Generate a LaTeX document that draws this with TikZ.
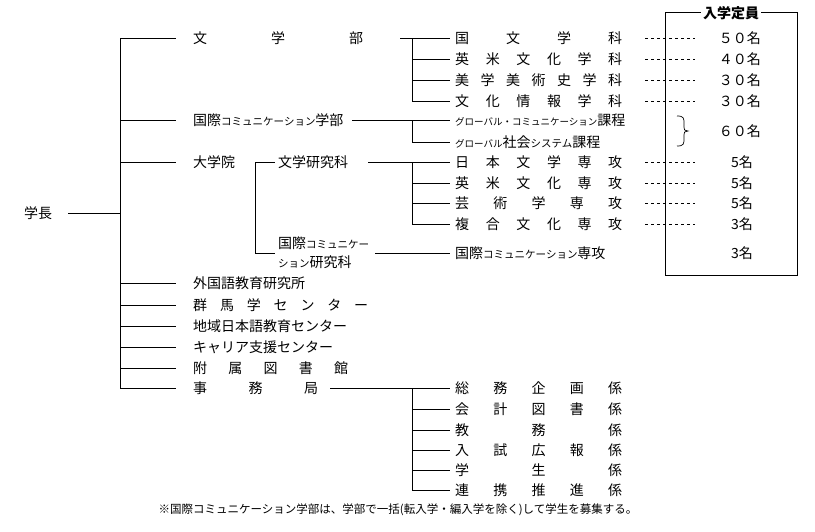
\documentclass[tikz,border=0pt]{standalone}
\usepackage{fontspec}
\setmainfont{Noto Sans CJK JP}
\newfontfamily\cjk{Noto Sans CJK JP}
\newcommand{\sprd}[2]{\makebox[#1][s]{#2}}
\newcommand{\sm}[1]{{\fontsize{10.5}{12}\selectfont #1}}
\begin{document}
\begin{tikzpicture}[x=1pt,y=-1pt,font=\cjk\fontsize{14}{16}\selectfont]
\tikzset{ln/.style={line width=0.7pt},lab/.style={anchor=west,inner sep=0pt},num/.style={anchor=east,inner sep=0pt},dsh/.style={dashed,line width=0.6pt}}
\useasboundingbox (0,0) rectangle (815,531);
% president
\node[anchor=center,inner sep=0pt] (pres) at (38,213) {学長};
\draw[ln] (68,213) -- (120,213);
\draw[ln] (120,38) -- (120,388);
\foreach \y in {38,120,162,283,305,326,347,368,388} \draw[ln] (120,\y) -- (176,\y);
% left labels
\node[lab] (bun) at (193,38) {\sprd{170pt}{文\hfill 学\hfill 部}};
\node[lab] (koku) at (193,120) {国際\sm{コミュニケーション}学部};
\node[lab] (dai) at (193,162) {大学院};
\node[lab] (bk) at (278,162) {文学研究科};
\node[lab,align=left] (kk) at (278,253) {国際\sm{コミュニケー}\\[3pt]\sm{ション}研究科};
\node[lab] (g1) at (193,283) {外国語教育研究所};
\node[lab] (g2) at (193,305) {\sprd{175pt}{群\hfill 馬\hfill 学\hfill セ\hfill ン\hfill タ\hfill ー}};
\node[lab] (g3) at (193,326) {地域日本語教育センター};
\node[lab] (g4) at (193,347) {キャリア支援センター};
\node[lab] (g5) at (193,368) {\sprd{155pt}{附\hfill 属\hfill 図\hfill 書\hfill 館}};
\node[lab] (jim) at (193,388) {\sprd{125pt}{事\hfill 務\hfill 局}};
% connectors to right
\draw[ln] (400,38) -- (412,38);
\draw[ln] (352,120) -- (412,120);
\draw[ln] (255,162) -- (275,162);
\draw[ln] (255,162) -- (255,253) -- (275,253);
\draw[ln] (368,162) -- (412,162);
\draw[ln] (375,253) -- (450,253);
\draw[ln] (330,388) -- (412,388);
\draw[ln] (412,38) -- (412,101);
\draw[ln] (412,120) -- (412,142);
\draw[ln] (412,162) -- (412,224);
\draw[ln] (412,388) -- (412,490);
\foreach \y in {38,59,80,101,120,142,162,183,203,224,388,409,430,450,470,490} \draw[ln] (412,\y) -- (450,\y);
% right items
\node[lab] (r1) at (455,38) {\sprd{167pt}{国\hfill 文\hfill 学\hfill 科}};
\node[lab] (r2) at (455,59) {\sprd{167pt}{英\hfill 米\hfill 文\hfill 化\hfill 学\hfill 科}};
\node[lab] (r3) at (455,80) {\sprd{167pt}{美\hfill 学\hfill 美\hfill 術\hfill 史\hfill 学\hfill 科}};
\node[lab] (r4) at (455,101) {\sprd{167pt}{文\hfill 化\hfill 情\hfill 報\hfill 学\hfill 科}};
\node[lab] (r5) at (455,120) {{\fontsize{9.5}{11}\selectfont グローバル・コミュニケーション}課程};
\node[lab] (r6) at (455,142) {{\fontsize{9.5}{11}\selectfont グローバル}社会{\fontsize{10.5}{11}\selectfont システム}課程};
\node[lab] (r7) at (455,162) {\sprd{167pt}{日\hfill 本\hfill 文\hfill 学\hfill 専\hfill 攻}};
\node[lab] (r8) at (455,183) {\sprd{167pt}{英\hfill 米\hfill 文\hfill 化\hfill 専\hfill 攻}};
\node[lab] (r9) at (455,203) {\sprd{167pt}{芸\hfill 術\hfill 学\hfill 専\hfill 攻}};
\node[lab] (r10) at (455,224) {\sprd{167pt}{複\hfill 合\hfill 文\hfill 化\hfill 専\hfill 攻}};
\node[lab] (r11) at (455,253) {国際\sm{コミュニケーション}専攻};
\node[lab] (s1) at (455,388) {\sprd{167pt}{総\hfill 務\hfill 企\hfill 画\hfill 係}};
\node[lab] (s2) at (455,409) {\sprd{167pt}{会\hfill 計\hfill 図\hfill 書\hfill 係}};
\node[lab] (s3) at (455,430) {\sprd{167pt}{教\hfill 務\hfill 係}};
\node[lab] (s4) at (455,450) {\sprd{167pt}{入\hfill 試\hfill 広\hfill 報\hfill 係}};
\node[lab] (s5) at (455,470) {\sprd{167pt}{学\hfill 生\hfill 係}};
\node[lab] (s6) at (455,490) {\sprd{167pt}{連\hfill 携\hfill 推\hfill 進\hfill 係}};
% dashed
\foreach \y in {38,59,80,101,162,183,203,224} \draw[dsh] (645,\y) -- (695,\y);
% box
\draw[ln] (665,12) rectangle (797,275);
\node[fill=white,inner sep=2pt,font=\cjk\bfseries\fontsize{14}{16}\selectfont] (hd) at (731,13) {入学定員};
\node[num] (n1) at (761,38) {５０名};
\node[num] (n2) at (761,59) {４０名};
\node[num] (n3) at (761,80) {３０名};
\node[num] (n4) at (761,101) {３０名};
\node[num] (n5) at (761,131) {６０名};
\node[num] (n6) at (753,162) {5名};
\node[num] (n7) at (753,183) {5名};
\node[num] (n8) at (753,203) {5名};
\node[num] (n9) at (753,224) {3名};
\node[num] (n10) at (753,253) {3名};
\draw[ln] (677,116) .. controls (684,116) and (684,118) .. (684,124) -- (684,127) .. controls (684,130) .. (688,131) .. controls (684,132) .. (684,135) -- (684,138) .. controls (684,144) and (684,146) .. (677,146);
% footnote
\node[inner sep=0pt,font=\cjk\fontsize{11.5}{13}\selectfont] (fn) at (398,510) {※国際コミュニケーション学部は、学部で一括(転入学・編入学を除く)して学生を募集する。};
\end{tikzpicture}
\end{document}
